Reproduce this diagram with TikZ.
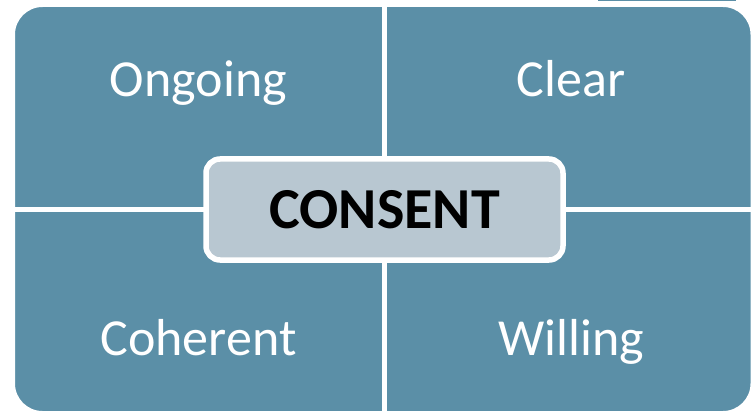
\documentclass[tikz,border=0pt]{standalone}
\usepackage{fontspec}
\setmainfont{Carlito}
\definecolor{quadblue}{RGB}{91,143,167}
\definecolor{hubgray}{RGB}{184,199,209}

\begin{document}
\begin{tikzpicture}[x=1pt,y=-1pt]
  \tikzstyle{quadlabel}=[text=white,font=\fontsize{52}{60}\selectfont,anchor=base]
  \tikzstyle{hub}=[draw=white,line width=5.5pt,fill=hubgray,rounded corners=14pt,minimum width=357pt,minimum height=101pt,font=\bfseries\fontsize{58}{66}\selectfont]
  \useasboundingbox (0,0) rectangle (751,414);
  \fill[quadblue] (598,0) rectangle (736,1.3);
  % four quadrants, white frame and cross
  \filldraw[fill=quadblue,draw=white,line width=5pt,rounded corners=30pt] (12.5,4.5) rectangle (753,413.5);
  \draw[white,line width=5pt] (384.5,4.5) -- (384.5,413.5) (12.5,209.5) -- (753,209.5);
  \node[hub] (consent) at (384.5,209.5) {CONSENT};
  \node[quadlabel] (ongoing) at (198.5,97) {Ongoing};
  \node[quadlabel] (clear) at (571,97) {Clear};
  \node[quadlabel] (coherent) at (198.5,355) {Coherent};
  \node[quadlabel] (willing) at (571,355) {Willing};
\end{tikzpicture}
\end{document}
